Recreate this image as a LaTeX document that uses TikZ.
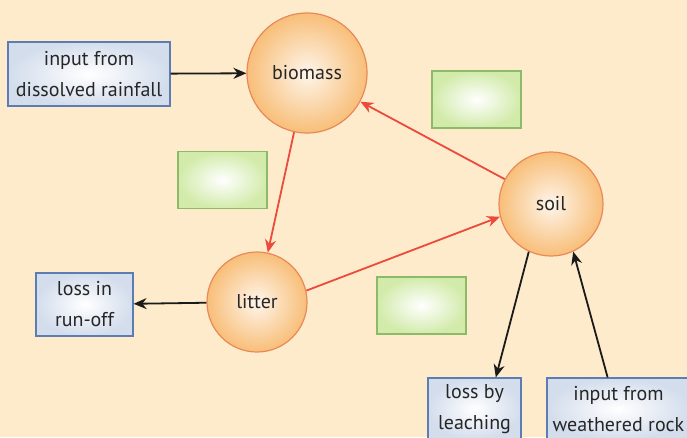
\documentclass[tikz,border=0pt]{standalone}
\usepackage{fontspec}
\setmainfont{PT Sans}
\usetikzlibrary{arrows.meta, positioning}
\definecolor{cbg}{HTML}{FDEBCB}
\definecolor{cring}{HTML}{E9895A}
\definecolor{cpool}{HTML}{F8BE78}
\definecolor{cboxline}{HTML}{5B7DB3}
\definecolor{cboxfill}{HTML}{D3DDEC}
\definecolor{cgreenline}{HTML}{8DBA68}
\definecolor{cgreenfill}{HTML}{D2EBAA}
\definecolor{cred}{HTML}{EC4B3B}
\definecolor{cblack}{HTML}{1A1A1A}
\tikzset{
  every picture/.style={font=\fontsize{20}{31}\selectfont, line width=1.2pt, x=1pt, y=-1pt},
  pool/.style={circle, draw=cring, inner color=white!85!cpool, outer color=cpool, minimum size=#1, text=black!85},
  flux/.style={draw=cboxline, inner color=white, outer color=cboxfill, align=center, inner sep=0pt, text=black!85},
  blank/.style={draw=cgreenline, inner color=white, outer color=cgreenfill, minimum width=89pt, minimum height=57pt},
  redarrow/.style={-{Stealth[length=13pt, width=11pt]}, draw=cred, line width=1.8pt},
  blackarrow/.style={-{Stealth[length=13pt, width=11pt]}, draw=cblack, line width=1.8pt},
}

\begin{document}
\begin{tikzpicture}
  \fill[cbg] (0,0) rectangle (687,437);
  \useasboundingbox (0,0) rectangle (687,437);
  \clip (0,0) rectangle (687,437);
  % pools
  \node[pool=120pt] (biomass) at (307,73) {biomass};
  \node[pool=104pt] (soil) at (551,204) {soil};
  \node[pool=100pt] (litter) at (257,302) {litter};
  % inputs and losses
  \node[flux, minimum width=162pt, minimum height=64pt] (rain) at (89,74) {input from\\dissolved rainfall};
  \node[flux, minimum width=97pt, minimum height=63pt] (runoff) at (84.5,304.5) {loss in\\run-off};
  \node[flux, minimum width=93pt, minimum height=62pt] (leach) at (474.5,409) {loss by\\leaching};
  \node[flux, minimum width=143pt, minimum height=62pt] (rock) at (618.5,409) {input from\\weathered rock};
  % empty label boxes
  \node[blank] (b1) at (476.5,99.5) {};
  \node[blank] (b2) at (222.5,180) {};
  \node[blank] (b3) at (421.5,305.5) {};
  % flows
  \draw[blackarrow] (rain) -- (biomass);
  \draw[redarrow] (soil) -- (biomass);
  \draw[redarrow] (biomass) -- (litter);
  \draw[redarrow] (litter.13) -- (soil.194);
  \draw[blackarrow] (litter) -- (runoff);
  \draw[blackarrow] (soil.245) -- (leach.56);
  \draw[blackarrow] (rock.109) -- (soil.295);
\end{tikzpicture}
\end{document}
